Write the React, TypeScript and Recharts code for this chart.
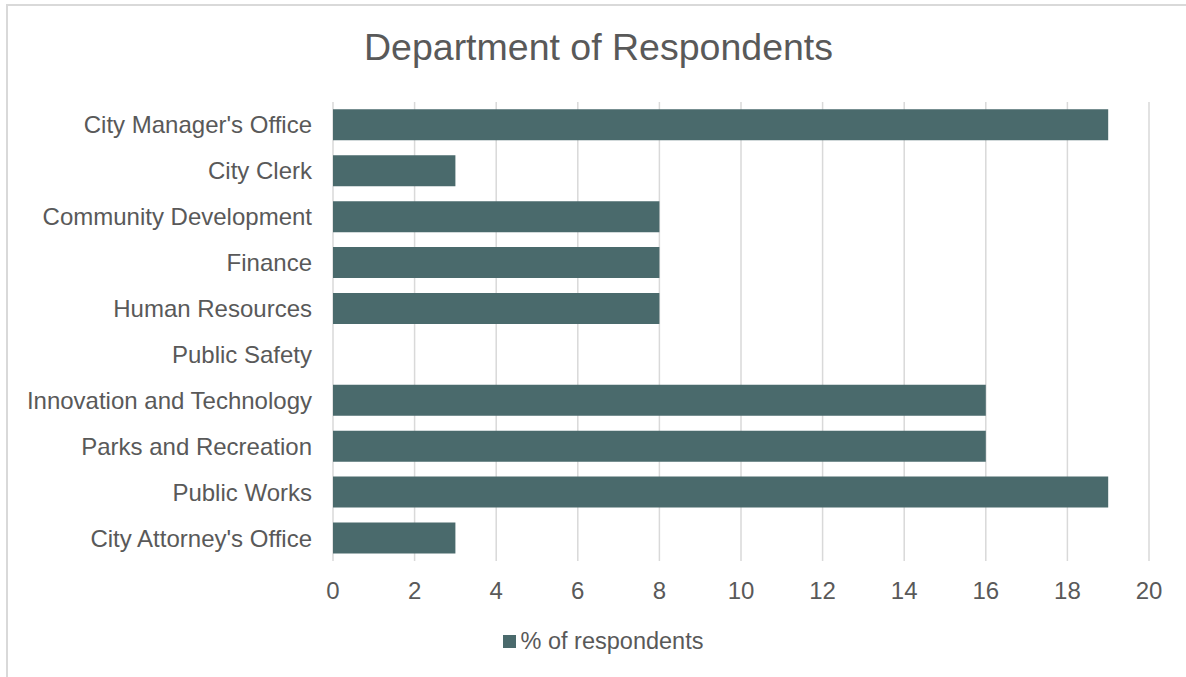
import React from "react";
import { BarChart, Bar, XAxis, YAxis, CartesianGrid } from "recharts";

const categories = [
  "City Manager's Office",
  "City Clerk",
  "Community Development",
  "Finance",
  "Human Resources",
  "Public Safety",
  "Innovation and Technology",
  "Parks and Recreation",
  "Public Works",
  "City Attorney's Office",
];
const values = [19, 3, 8, 8, 8, 0, 16, 16, 19, 3];
const xTicks = [0, 2, 4, 6, 8, 10, 12, 14, 16, 18, 20];
const seriesName = "% of respondents";

const data = categories.map((name, i) => ({ name, value: values[i] }));

const TEXT = "#595959";
const BAR = "#4A6A6C";
const FONT = "'Liberation Sans', Arial, sans-serif";

export default function App() {
  return (
    <div style={{ position: "absolute", left: 0, top: 0, width: 1186, height: 677, overflow: "hidden", background: "#fff" }}>
      <div
        style={{
          position: "absolute",
          left: 6,
          top: 4,
          width: 1300,
          height: 800,
          border: "2px solid #d9d9d9",
          boxSizing: "border-box",
        }}
      />
      <div
        style={{
          position: "absolute",
          left: 0,
          top: 24,
          width: 1197,
          textAlign: "center",
          fontFamily: FONT,
          fontSize: 37.5,
          color: TEXT,
          lineHeight: "46px",
        }}
      >
        Department of Respondents
      </div>
      <div style={{ position: "absolute", left: 0, top: 0 }}>
        <BarChart
          width={1186}
          height={677}
          data={data}
          layout="vertical"
          margin={{ top: 102, right: 37, bottom: 86, left: 0 }}
          barCategoryGap="16%"
        >
          <CartesianGrid horizontal={false} stroke="#d9d9d9" strokeWidth={1.5} />
          <XAxis
            type="number"
            domain={[0, 20]}
            ticks={xTicks}
            height={30}
            axisLine={false}
            tickLine={false}
            tickSize={0}
            tickMargin={21}
            tick={{ fill: TEXT, fontSize: 24, fontFamily: FONT }}
            interval={0}
          />
          <YAxis
            type="category"
            dataKey="name"
            width={333}
            axisLine={false}
            tickLine={false}
            tickSize={0}
            tickMargin={21}
            interval={0}
            tick={{ fill: TEXT, fontSize: 24, fontFamily: FONT }}
          />
          <Bar dataKey="value" name={seriesName} fill={BAR} isAnimationActive={false} />
        </BarChart>
      </div>
      <div
        style={{
          position: "absolute",
          left: 10,
          top: 627,
          width: 1186,
          display: "flex",
          justifyContent: "center",
          alignItems: "center",
          fontFamily: FONT,
        }}
      >
        <div style={{ width: 13, height: 13, background: BAR, marginRight: 5 }} />
        <span style={{ fontSize: 23.5, color: TEXT, lineHeight: "28px" }}>{seriesName}</span>
      </div>
    </div>
  );
}
